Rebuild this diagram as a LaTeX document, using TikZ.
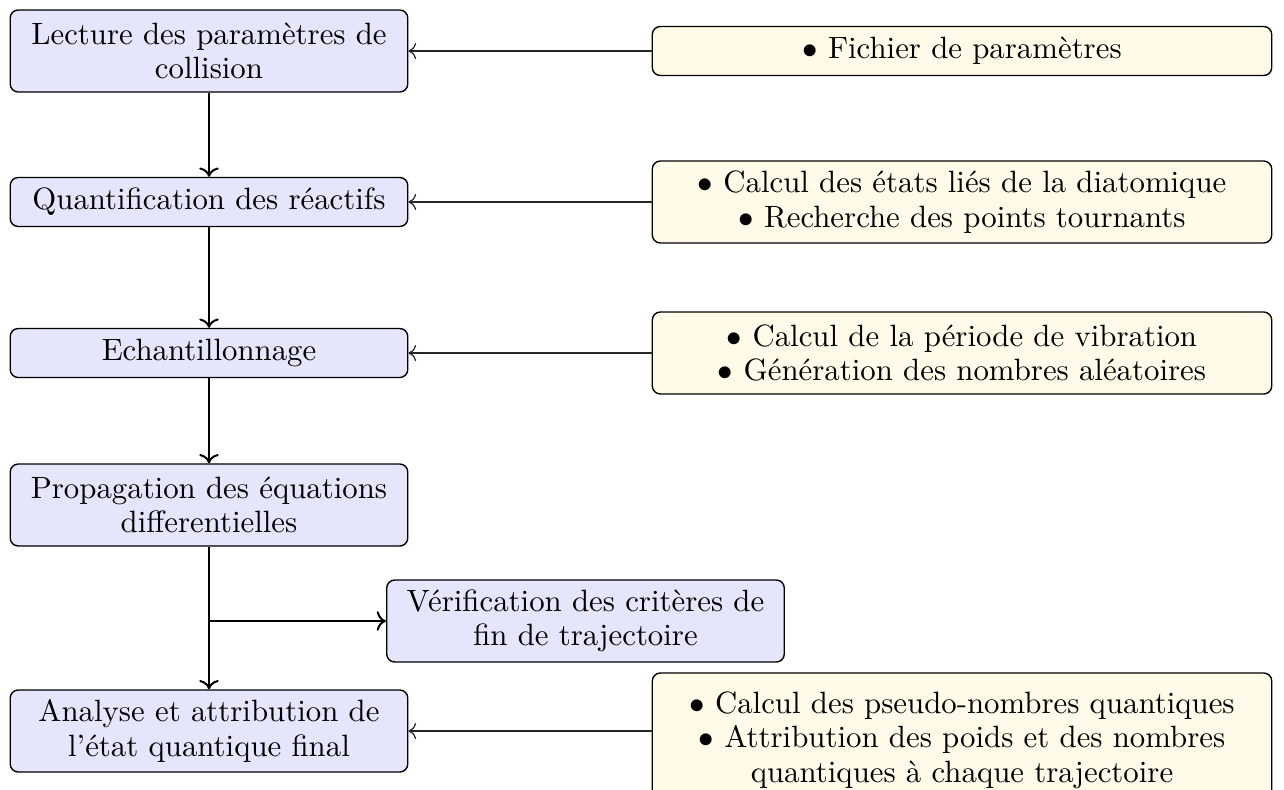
\documentclass[tikz,border=0pt]{standalone}
\usetikzlibrary{arrows.meta}
\definecolor{creamfill}{RGB}{255,251,232}
\definecolor{lavfill}{RGB}{229,229,252}
\begin{document}
\begin{tikzpicture}[x=0.3245pt,y=-0.3245pt,
  base/.style={draw=black, line width=0.45pt, rounded corners=2.6pt, align=center,
    inner xsep=0pt, inner ysep=2pt, font=\fontsize{10pt}{11.2pt}\selectfont},
  leftbox/.style={base, fill=lavfill, text width=129pt},
  rightbox/.style={base, fill=creamfill, text width=201pt},
  one/.style={minimum height=15.9pt},
  two/.style={minimum height=26.6pt},
  three/.style={minimum height=43.5pt},
  flow/.style={->, line width=0.65pt},
  feed/.style={->, line width=0.4pt, draw=black!85}]
\useasboundingbox (0,0) rectangle (1284,789);

\node[leftbox, two] (L1) at (209,51) {Lecture des paramètres de\\collision};
\node[leftbox, one] (L2) at (209,202) {Quantification des réactifs};
\node[leftbox, one] (L3) at (209,353) {Echantillonnage};
\node[leftbox, two] (L4) at (209,505) {Propagation des équations\\differentielles};
\node[leftbox, two] (L5) at (209,731) {Analyse et attribution de\\l'état quantique final};
\node[leftbox, two] (V) at (585.5,621) {Vérification des critères de\\fin de trajectoire};

\node[rightbox, one] (R1) at (962,51) {$\bullet$ Fichier de paramètres};
\node[rightbox, two] (R2) at (962,202) {$\bullet$ Calcul des états liés de la diatomique\\$\bullet$ Recherche des points tournants};
\node[rightbox, two] (R3) at (962,353) {$\bullet$ Calcul de la période de vibration\\$\bullet$ Génération des nombres aléatoires};
\node[rightbox, three] (R4) at (962,740) {$\bullet$ Calcul des pseudo-nombres quantiques\\$\bullet$ Attribution des poids et des nombres\\quantiques à chaque trajectoire};

\draw[flow] (L1) -- (L2);
\draw[flow] (L2) -- (L3);
\draw[flow] (L3) -- (L4);
\draw[flow] (L4) -- (L5);
\coordinate (br) at (L4.south |- V.west);
\draw[flow] (br) -- (V);

\draw[feed] (R1) -- (L1);
\draw[feed] (R2) -- (L2);
\draw[feed] (R3) -- (L3);
\coordinate (r4in) at (R4.west |- L5.east);
\draw[feed] (r4in) -- (L5);
\end{tikzpicture}
\end{document}
